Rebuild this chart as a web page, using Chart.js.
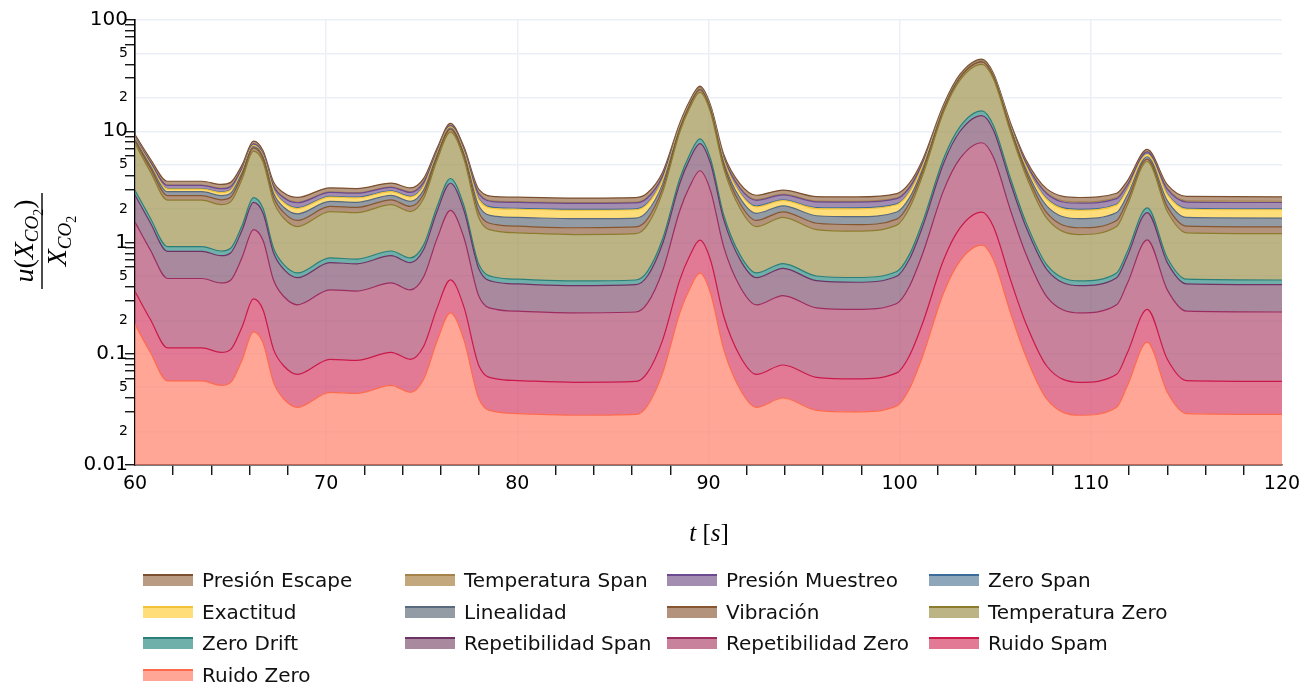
<!DOCTYPE html>
<html>
<head>
<meta charset="utf-8">
<script src="https://cdn.jsdelivr.net/npm/chart.js@4.4.0/dist/chart.umd.min.js"></script>
<style>
  body { margin: 0; background: #fff; }
  #wrap { position: relative; width: 1314px; height: 686px; }
  #chart { position: absolute; left: 0; top: 0; }
  #leyenda {
    position: absolute; left: 143px; top: 564px;
    display: grid; grid-template-columns: repeat(4, 262px); grid-auto-rows: 31.7px;
    font-family: "DejaVu Sans", sans-serif; font-size: 20px; color: #111;
  }
  .item { display: flex; align-items: center; white-space: nowrap; }
  .sw { width: 50px; height: 10px; margin-right: 9px; box-sizing: content-box; }
</style>
</head>
<body>
<div id="wrap">
  <canvas id="chart" width="1314" height="686"></canvas>
  <div id="leyenda"></div>
</div>
<script>
// tiempo [s]
const tiempo = [60, 60.8, 61.7, 63.5, 64.5, 65, 65.6, 66.2, 66.7, 67.25, 67.8, 68.5, 70.2, 71.6, 73.4, 74.4, 75.1, 75.8, 76.5, 77.2, 78, 78.9, 80, 83, 86.2, 86.8, 87.6, 88.5, 89, 89.55, 90.1, 90.8, 91.65, 92.5, 93.9, 95.65, 97.75, 99.85, 100.5, 101.2, 102.3, 103.15, 104.3, 104.9, 105.8, 106.6, 107.7, 109.4, 111.35, 111.9, 112.95, 114, 115, 120];

// contribuciones (apiladas de abajo hacia arriba)
const ruidoZero = [0.183, 0.103, 0.057, 0.057, 0.052, 0.055, 0.088, 0.157, 0.125, 0.055, 0.039, 0.033, 0.045, 0.044, 0.052, 0.045, 0.059, 0.13, 0.233, 0.134, 0.039, 0.030, 0.029, 0.028, 0.0285, 0.034, 0.067, 0.233, 0.378, 0.53, 0.353, 0.109, 0.048, 0.033, 0.040, 0.031, 0.030, 0.034, 0.048, 0.095, 0.353, 0.68, 0.946, 0.703, 0.233, 0.095, 0.039, 0.028, 0.033, 0.051, 0.127, 0.045, 0.029, 0.0285];
const ruidoSpam = [0.179, 0.101, 0.0559, 0.0559, 0.051, 0.0539, 0.0862, 0.154, 0.1225, 0.0539, 0.0382, 0.0323, 0.0441, 0.0431, 0.051, 0.0441, 0.0578, 0.127, 0.228, 0.131, 0.0382, 0.0294, 0.0284, 0.0274, 0.0279, 0.0333, 0.0657, 0.228, 0.370, 0.519, 0.346, 0.107, 0.047, 0.0323, 0.0392, 0.0304, 0.0294, 0.0333, 0.047, 0.0931, 0.346, 0.666, 0.927, 0.689, 0.228, 0.0931, 0.0382, 0.0274, 0.0323, 0.05, 0.124, 0.0441, 0.0284, 0.0279];
const repetibilidadZero = [1.162, 0.654, 0.362, 0.362, 0.330, 0.349, 0.559, 0.997, 0.794, 0.349, 0.248, 0.210, 0.286, 0.279, 0.330, 0.286, 0.375, 0.826, 1.480, 0.851, 0.248, 0.191, 0.184, 0.178, 0.181, 0.216, 0.425, 1.480, 2.400, 3.366, 2.242, 0.692, 0.305, 0.210, 0.254, 0.197, 0.191, 0.216, 0.305, 0.603, 2.242, 4.318, 6.007, 4.464, 1.480, 0.603, 0.248, 0.178, 0.210, 0.324, 0.806, 0.286, 0.184, 0.181];
const repetibilidadSpan = [1.153, 0.649, 0.359, 0.359, 0.328, 0.347, 0.554, 0.989, 0.788, 0.347, 0.246, 0.208, 0.284, 0.277, 0.328, 0.284, 0.372, 0.819, 1.468, 0.844, 0.246, 0.189, 0.183, 0.176, 0.180, 0.214, 0.422, 1.468, 2.381, 3.339, 2.224, 0.687, 0.302, 0.208, 0.252, 0.195, 0.189, 0.214, 0.302, 0.599, 2.224, 4.284, 5.960, 4.429, 1.468, 0.599, 0.246, 0.176, 0.208, 0.321, 0.800, 0.284, 0.183, 0.180];
const zeroDrift = [0.275, 0.155, 0.0855, 0.0855, 0.078, 0.0825, 0.132, 0.236, 0.188, 0.0825, 0.0585, 0.0495, 0.0675, 0.066, 0.078, 0.0675, 0.0885, 0.195, 0.350, 0.201, 0.0585, 0.045, 0.0435, 0.042, 0.0428, 0.051, 0.1005, 0.350, 0.567, 0.795, 0.530, 0.164, 0.072, 0.0495, 0.060, 0.0465, 0.045, 0.051, 0.072, 0.1425, 0.530, 1.02, 1.419, 1.055, 0.350, 0.1425, 0.0585, 0.042, 0.0495, 0.0765, 0.1905, 0.0675, 0.0435, 0.0428];
const temperaturaZero = [4.758, 2.678, 1.482, 1.482, 1.352, 1.430, 2.288, 4.082, 3.25, 1.43, 1.014, 0.858, 1.17, 1.144, 1.352, 1.17, 1.534, 3.38, 6.058, 3.484, 1.014, 0.78, 0.754, 0.728, 0.741, 0.884, 1.742, 6.058, 9.828, 13.78, 9.178, 2.834, 1.248, 0.858, 1.04, 0.806, 0.78, 0.884, 1.248, 2.47, 9.178, 17.68, 24.6, 18.28, 6.058, 2.47, 1.014, 0.728, 0.858, 1.326, 3.302, 1.17, 0.754, 0.741];
const vibracion = [0.518, 0.342, 0.240, 0.240, 0.229, 0.236, 0.309, 0.460, 0.39, 0.236, 0.201, 0.188, 0.214, 0.212, 0.229, 0.214, 0.245, 0.401, 0.628, 0.41, 0.201, 0.181, 0.179, 0.177, 0.178, 0.19, 0.262, 0.628, 0.947, 1.281, 0.892, 0.355, 0.221, 0.188, 0.203, 0.183, 0.181, 0.19, 0.221, 0.324, 0.892, 1.611, 2.196, 1.662, 0.628, 0.324, 0.201, 0.177, 0.188, 0.215, 0.27, 0.205, 0.179, 0.178];
const linealidad = [0.22, 0.22, 0.22, 0.22, 0.22, 0.22, 0.22, 0.22, 0.22, 0.22, 0.22, 0.23, 0.23, 0.23, 0.23, 0.23, 0.24, 0.24, 0.25, 0.26, 0.27, 0.27, 0.28, 0.28, 0.28, 0.28, 0.28, 0.28, 0.27, 0.27, 0.27, 0.26, 0.26, 0.25, 0.25, 0.25, 0.26, 0.26, 0.26, 0.26, 0.27, 0.27, 0.27, 0.27, 0.27, 0.27, 0.28, 0.28, 0.28, 0.28, 0.28, 0.28, 0.28, 0.28];
const exactitud = [0.16, 0.16, 0.16, 0.16, 0.17, 0.17, 0.17, 0.18, 0.18, 0.19, 0.2, 0.21, 0.22, 0.22, 0.22, 0.22, 0.23, 0.24, 0.25, 0.27, 0.29, 0.3, 0.31, 0.31, 0.31, 0.31, 0.3, 0.3, 0.29, 0.29, 0.28, 0.28, 0.27, 0.26, 0.24, 0.28, 0.3, 0.3, 0.3, 0.3, 0.3, 0.3, 0.3, 0.3, 0.3, 0.3, 0.31, 0.31, 0.31, 0.31, 0.31, 0.31, 0.31, 0.31];
const zeroSpan = [0.035, 0.035, 0.035, 0.035, 0.035, 0.035, 0.035, 0.035, 0.035, 0.035, 0.038, 0.038, 0.038, 0.038, 0.038, 0.038, 0.038, 0.038, 0.038, 0.04, 0.04, 0.04, 0.04, 0.04, 0.04, 0.04, 0.04, 0.04, 0.04, 0.04, 0.04, 0.04, 0.04, 0.04, 0.04, 0.04, 0.04, 0.04, 0.04, 0.04, 0.04, 0.04, 0.04, 0.04, 0.04, 0.04, 0.04, 0.04, 0.04, 0.04, 0.04, 0.04, 0.04, 0.04];
const presionMuestreo = [0.2, 0.2, 0.2, 0.2, 0.2, 0.2, 0.2, 0.2, 0.2, 0.2, 0.21, 0.22, 0.22, 0.22, 0.22, 0.22, 0.23, 0.23, 0.24, 0.25, 0.26, 0.26, 0.26, 0.26, 0.26, 0.26, 0.26, 0.26, 0.26, 0.26, 0.26, 0.26, 0.26, 0.26, 0.26, 0.26, 0.26, 0.26, 0.26, 0.26, 0.26, 0.26, 0.26, 0.26, 0.26, 0.27, 0.27, 0.27, 0.27, 0.27, 0.27, 0.28, 0.28, 0.28];
const temperaturaSpan = [0.03, 0.03, 0.03, 0.03, 0.03, 0.03, 0.03, 0.03, 0.03, 0.03, 0.035, 0.035, 0.035, 0.035, 0.035, 0.035, 0.035, 0.035, 0.035, 0.035, 0.04, 0.04, 0.04, 0.04, 0.04, 0.04, 0.04, 0.04, 0.04, 0.04, 0.04, 0.04, 0.04, 0.04, 0.04, 0.04, 0.04, 0.04, 0.04, 0.04, 0.05, 0.05, 0.05, 0.05, 0.05, 0.05, 0.05, 0.06, 0.06, 0.06, 0.06, 0.06, 0.06, 0.06];
const presionEscape = [0.455, 0.335, 0.266, 0.266, 0.258, 0.263, 0.312, 0.416, 0.368, 0.263, 0.239, 0.23, 0.248, 0.246, 0.258, 0.248, 0.269, 0.375, 0.53, 0.381, 0.239, 0.225, 0.224, 0.222, 0.223, 0.231, 0.281, 0.53, 0.747, 0.975, 0.71, 0.344, 0.252, 0.23, 0.24, 0.227, 0.225, 0.231, 0.252, 0.323, 0.71, 1.2, 1.599, 1.235, 0.53, 0.323, 0.239, 0.222, 0.23, 0.245, 0.28, 0.24, 0.224, 0.223];

const nombres = ['Ruido Zero', 'Ruido Spam', 'Repetibilidad Zero', 'Repetibilidad Span', 'Zero Drift',
  'Temperatura Zero', 'Vibración', 'Linealidad', 'Exactitud', 'Zero Span', 'Presión Muestreo',
  'Temperatura Span', 'Presión Escape'];
const series = [ruidoZero, ruidoSpam, repetibilidadZero, repetibilidadSpan, zeroDrift, temperaturaZero,
  vibracion, linealidad, exactitud, zeroSpan, presionMuestreo, temperaturaSpan, presionEscape];

const rellenos = ['rgba(255,136,115,0.75)', 'rgba(216,78,115,0.75)', 'rgba(182,88,122,0.75)', 'rgba(139,98,126,0.75)',
  'rgba(64,150,142,0.75)', 'rgba(166,155,91,0.75)', 'rgba(155,111,82,0.75)', 'rgba(111,122,135,0.75)',
  'rgba(255,211,78,0.75)', 'rgba(104,136,163,0.75)', 'rgba(132,103,150,0.75)', 'rgba(175,139,83,0.75)',
  'rgba(162,122,91,0.75)'];
const lineas = ['#ff6a4d', '#c9184a', '#9c2c60', '#6e3264', '#2b7f78', '#8c7b2d', '#85562f', '#5a6a7e',
  '#f2c23a', '#3c6b99', '#6b4a8f', '#a5834a', '#7a5030'];

const datasets = series.map((vals, i) => ({
  label: nombres[i],
  data: vals.map((v, j) => ({ x: tiempo[j], y: v })),
  backgroundColor: rellenos[i],
  borderColor: lineas[i],
  borderWidth: 1.2,
  pointRadius: 0,
  cubicInterpolationMode: 'monotone',
  fill: i === 0 ? 'start' : '-1'
}));

function mantisa(v) {
  const e = Math.floor(Math.log10(v) + 1e-9);
  return Math.round(v / Math.pow(10, e));
}

const valoresY = [];
for (let e = -2; e <= 1; e++) {
  for (let m = 1; m <= 9; m++) valoresY.push(Number((m * Math.pow(10, e)).toPrecision(3)));
}
valoresY.push(100);

const serif = '"Liberation Serif", "DejaVu Serif", serif';

function dibujarPiezas(ctx, piezas, xc, y) {
  let w = 0;
  piezas.forEach(p => { ctx.font = p.f; p.w = ctx.measureText(p.t).width; w += p.w; });
  let x = xc - w / 2;
  piezas.forEach(p => {
    ctx.font = p.f;
    ctx.fillText(p.t, x, y + (p.dy || 0));
    x += p.w;
  });
}

const titulos = {
  id: 'titulos',
  afterDraw(chart) {
    const ctx = chart.ctx;
    ctx.save();
    ctx.fillStyle = '#000';
    ctx.textBaseline = 'alphabetic';
    ctx.textAlign = 'left';
    // eje x
    dibujarPiezas(ctx, [
      { t: 't', f: 'italic 25px ' + serif },
      { t: ' [', f: '25px ' + serif },
      { t: 's', f: 'italic 25px ' + serif },
      { t: ']', f: '25px ' + serif }
    ], 709, 541);
    // eje y (fraccion rotada)
    ctx.translate(42, 241);
    ctx.rotate(-Math.PI / 2);
    dibujarPiezas(ctx, [
      { t: 'u', f: 'italic 28px ' + serif },
      { t: '(', f: '28px ' + serif },
      { t: 'X', f: 'italic 28px ' + serif },
      { t: 'CO', f: 'italic 19px ' + serif, dy: 5 },
      { t: '2', f: '14px ' + serif, dy: 10 },
      { t: ')', f: '28px ' + serif }
    ], 0, -9);
    ctx.fillRect(-48, -0.7, 96, 1.4);
    dibujarPiezas(ctx, [
      { t: 'X', f: 'italic 28px ' + serif },
      { t: 'CO', f: 'italic 19px ' + serif, dy: 5 },
      { t: '2', f: '14px ' + serif, dy: 10 }
    ], 0, 24);
    ctx.restore();
  }
};

new Chart(document.getElementById('chart'), {
  type: 'line',
  data: { datasets: datasets },
  options: {
    responsive: false,
    animation: false,
    devicePixelRatio: 1,
    layout: { padding: { left: 0, top: 20, right: 32, bottom: 0 } },
    plugins: { legend: { display: false }, tooltip: { enabled: false } },
    scales: {
      x: {
        type: 'linear', min: 60, max: 120,
        afterFit: s => { s.height = 221; },
        border: { display: true, color: '#000', width: 1.6 },
        grid: {
          lineWidth: 1.5,
          tickLength: 10,
          color: c => (c.tick && c.tick.value % 10 === 0 && c.tick.value > 60 && c.tick.value < 120) ? '#ebf0f8' : 'rgba(0,0,0,0)',
          tickColor: c => (c.tick && c.tick.value % 10 !== 0) ? '#000' : 'rgba(0,0,0,0)',
          tickWidth: 1.3
        },
        ticks: {
          stepSize: 2, autoSkip: false, maxRotation: 0, padding: -2,
          color: '#000', font: { family: '"DejaVu Sans", sans-serif', size: 19 },
          callback: v => (v % 10 === 0 ? String(v) : '')
        }
      },
      y: {
        type: 'logarithmic', min: 0.01, max: 100, stacked: true,
        afterFit: s => { s.width = 135; },
        afterBuildTicks: s => { s.ticks = valoresY.map(v => ({ value: v })); },
        border: { display: true, color: '#000', width: 1.6 },
        grid: {
          lineWidth: 1.5,
          tickLength: 10,
          color: c => (c.tick && [1, 2, 5].includes(mantisa(c.tick.value))) ? '#ebf0f8' : 'rgba(0,0,0,0)',
          tickColor: c => (c.tick && [2, 5].includes(mantisa(c.tick.value))) ? 'rgba(0,0,0,0)' : '#000',
          tickWidth: 1.3
        },
        ticks: {
          autoSkip: false, padding: -3, color: '#000',
          font: c => ({ family: '"DejaVu Sans", sans-serif', size: (c.tick && mantisa(c.tick.value) === 1) ? 20 : 14 }),
          callback: v => {
            const m = mantisa(v);
            if (m === 1) return String(v);
            if (m === 2 || m === 5) return String(m);
            return '';
          }
        }
      }
    }
  },
  plugins: [titulos]
});

// leyenda en cuatro columnas (orden inverso al apilado)
const leyenda = document.getElementById('leyenda');
for (let i = nombres.length - 1; i >= 0; i--) {
  const item = document.createElement('div');
  item.className = 'item';
  const sw = document.createElement('span');
  sw.className = 'sw';
  sw.style.background = rellenos[i];
  sw.style.borderTop = '2px solid ' + lineas[i];
  item.appendChild(sw);
  item.appendChild(document.createTextNode(nombres[i]));
  leyenda.appendChild(item);
}
</script>
</body>
</html>
